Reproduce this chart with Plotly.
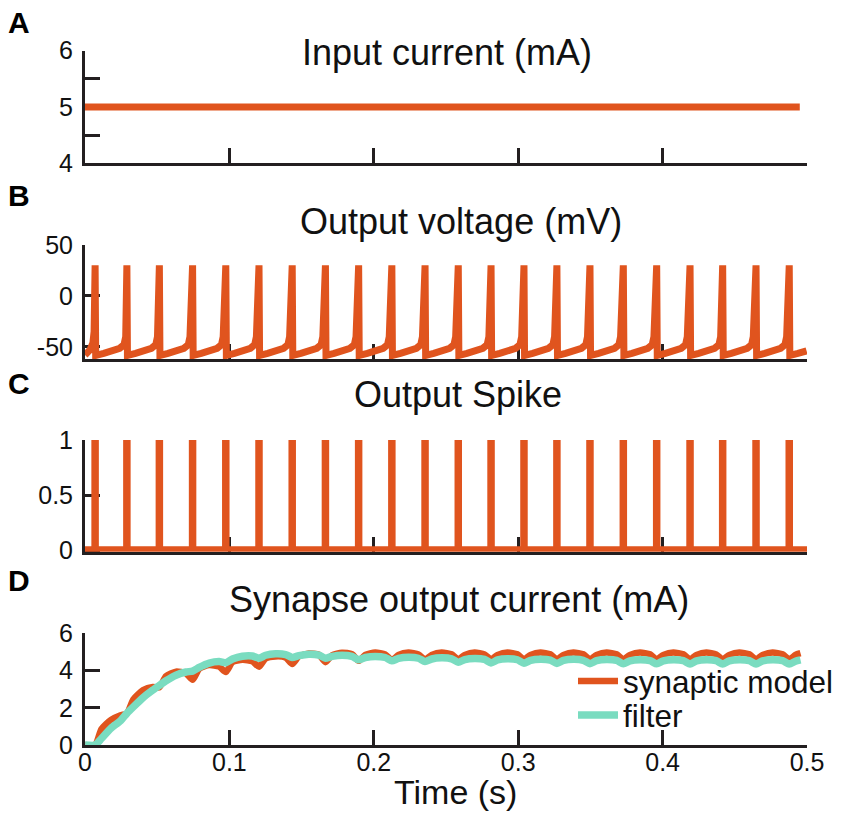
import plotly.graph_objects as go

# ---------------- data ----------------
spike_t = [0.0070, 0.0290, 0.0515, 0.0745, 0.0975, 0.1205, 0.1435, 0.1665,
           0.1895, 0.2125, 0.2355, 0.2585, 0.2812, 0.3040, 0.3268, 0.3497,
           0.3728, 0.3959, 0.4190, 0.4416, 0.4647, 0.4877]

# Panel A: input current
input_t = [0.0, 0.495]
input_i = [5.0, 5.0]

# Panel B: membrane voltage (start segment, shape after each spike, peak)
volt_start_t = [0.0, 0.0035, 0.0055, 0.0063]
volt_start_v = [-58.0, -53.0, -46.0, -35.0]
volt_after_dt = [0.0004, 0.0060, 0.0120, 0.0170, 0.0200, 0.0212]
volt_after_v = [-58.5, -56.5, -54.0, -51.5, -48.0, -40.0]
spike_peak_v = 30.0

# Panel D: synaptic model (value at each spike + 3 arc values per interval)
syn_cusp = [0.0, 1.70, 3.10, 3.50, 3.92, 4.20, 4.35, 4.45, 4.52, 4.56, 4.58,
            4.60, 4.60, 4.60, 4.60, 4.60, 4.60, 4.60, 4.60, 4.60, 4.60, 4.60]
syn_arc = [[0.85, 1.35, 1.60], [2.45, 2.95, 3.12], [3.70, 3.94, 3.85],
           [4.10, 4.30, 4.21], [4.45, 4.58, 4.50], [4.65, 4.76, 4.70],
           [4.76, 4.92, 4.85], [4.82, 4.96, 4.88], [4.84, 4.97, 4.87],
           [4.84, 4.97, 4.87], [4.84, 4.97, 4.87], [4.84, 4.97, 4.87],
           [4.84, 4.97, 4.87], [4.84, 4.97, 4.87], [4.84, 4.97, 4.87],
           [4.84, 4.97, 4.87], [4.84, 4.97, 4.87], [4.84, 4.97, 4.87],
           [4.84, 4.97, 4.87], [4.84, 4.97, 4.87], [4.84, 4.97, 4.87]]
syn_tail_t = [0.4920, 0.4955]
syn_tail_v = [4.84, 4.93]

# Panel D: filter
filt_cusp = [0.0, 1.70, 3.20, 3.97, 4.42, 4.66, 4.70, 4.66, 4.58, 4.52, 4.48,
             4.44, 4.41, 4.39, 4.38, 4.37, 4.36, 4.36, 4.35, 4.35, 4.35, 4.35]
filt_arc = [[0.35, 0.90, 1.30], [2.05, 2.55, 2.95], [3.45, 3.75, 3.92],
            [4.17, 4.40, 4.48], [4.62, 4.77, 4.78], [4.82, 4.90, 4.86],
            [4.80, 4.88, 4.83], [4.76, 4.82, 4.76], [4.70, 4.76, 4.70],
            [4.65, 4.71, 4.66], [4.62, 4.68, 4.63], [4.59, 4.65, 4.60],
            [4.57, 4.63, 4.58], [4.55, 4.61, 4.56], [4.54, 4.60, 4.55],
            [4.53, 4.59, 4.54], [4.52, 4.58, 4.53], [4.52, 4.58, 4.53],
            [4.52, 4.58, 4.53], [4.52, 4.58, 4.53], [4.52, 4.58, 4.53]]
filt_tail_t = [0.4920, 0.4955]
filt_tail_v = [4.50, 4.57]

x_tickvals = [0, 0.1, 0.2, 0.3, 0.4, 0.5]
x_ticktext = ["0", "0.1", "0.2", "0.3", "0.4", "0.5"]

# ---------------- build traces ----------------
ORANGE = "#E0541E"
TEAL = "#7ADCC0"
AXC = "#231f20"
FONT = "Liberation Sans, Arial, sans-serif"
W, H = 851, 817


def px(x):
    return x / W


def py(y):
    return 1 - y / H


# voltage
vt, vv = list(volt_start_t), list(volt_start_v)
for i, ts in enumerate(spike_t):
    vt.append(ts)
    vv.append(spike_peak_v)
    nxt = spike_t[i + 1] if i + 1 < len(spike_t) else 0.5
    for dt, v in zip(volt_after_dt, volt_after_v):
        if ts + dt < nxt:
            vt.append(ts + dt)
            vv.append(v)

# spikes
st, sv = [0.0], [0.0]
for ts in spike_t:
    st += [ts, ts, ts]
    sv += [0.0, 1.0, 0.0]
st.append(0.5)
sv.append(0.0)


def arc_series(cusps, arcs, tail_t, tail_v):
    t, v = [0.0, spike_t[0]], [0.0, cusps[0]]
    for i in range(len(spike_t) - 1):
        a, b = spike_t[i], spike_t[i + 1]
        for frac, val in zip([0.2, 0.5, 0.8], arcs[i]):
            t.append(a + frac * (b - a))
            v.append(val)
        t.append(b)
        v.append(cusps[i + 1])
    return t + tail_t, v + tail_v


syn_t, syn_v = arc_series(syn_cusp, syn_arc, syn_tail_t, syn_tail_v)
filt_t, filt_v = arc_series(filt_cusp, filt_arc, filt_tail_t, filt_tail_v)

fig = go.Figure()
fig.add_trace(go.Scatter(x=input_t, y=input_i, mode="lines",
                         line=dict(color=ORANGE, width=7), showlegend=False,
                         xaxis="x", yaxis="y"))
fig.add_trace(go.Scatter(x=vt, y=vv, mode="lines",
                         line=dict(color=ORANGE, width=7), showlegend=False,
                         xaxis="x2", yaxis="y2"))
fig.add_trace(go.Scatter(x=st, y=sv, mode="lines",
                         line=dict(color=ORANGE, width=7.5), showlegend=False,
                         xaxis="x3", yaxis="y3"))
fig.add_trace(go.Scatter(x=syn_t, y=syn_v, mode="lines", name="synaptic model",
                         line=dict(color=ORANGE, width=6.5, shape="spline",
                                   smoothing=0.6),
                         legend="legend", xaxis="x4", yaxis="y4"))
fig.add_trace(go.Scatter(x=filt_t, y=filt_v, mode="lines", name="filter",
                         line=dict(color=TEAL, width=7.5, shape="spline",
                                   smoothing=0.6),
                         legend="legend2", xaxis="x4", yaxis="y4"))

xdom = [px(85), px(807)]
ydoms = {
    "": [py(163.3), py(50.7)],
    "2": [py(359), py(245)],
    "3": [py(551.7), py(440)],
    "4": [py(745), py(633.3)],
}
yranges = {"": [4, 6], "2": [-62, 50], "3": [-0.015, 1.0], "4": [0, 6]}
ytickvals = {"": [4, 4.5, 5, 5.5, 6], "2": [-50, 0, 50], "3": [0, 0.5, 1],
             "4": [0, 2, 4, 6]}
yticktext = {"": ["4", "", "5", "", "6"], "2": ["-50", "0", "50"],
             "3": ["0", "0.5", "1"], "4": ["0", "2", "4", "6"]}

common = dict(showline=True, linecolor=AXC, linewidth=3, ticks="inside",
              ticklen=15, tickwidth=3, tickcolor=AXC, showgrid=False,
              zeroline=False, layer="below traces", automargin=False,
              tickfont=dict(family=FONT, size=25, color="#111111"))

layout = {}
for k in ["", "2", "3", "4"]:
    layout["xaxis" + k] = dict(common, domain=xdom, anchor="y" + k,
                               range=[0, 0.5], tickvals=x_tickvals,
                               ticktext=x_ticktext, ticklabelstandoff=-7,
                               showticklabels=(k == "4"))
    layout["yaxis" + k] = dict(common, domain=ydoms[k], anchor="x" + k,
                               range=yranges[k], tickvals=ytickvals[k],
                               ticktext=yticktext[k], ticklabelstandoff=4)
fig.update_layout(**layout)

annos = []
for letter, yy in [("A", 22), ("B", 195), ("C", 383), ("D", 580)]:
    annos.append(dict(text="<b>%s</b>" % letter, x=px(6), y=py(yy),
                      xref="paper", yref="paper", xanchor="left",
                      yanchor="middle", showarrow=False,
                      font=dict(family=FONT, size=30, color="#000")))
for title, xx, yy in [("Input current (mA)", 447, 52),
                      ("Output voltage (mV)", 461, 221),
                      ("Output Spike", 458, 394),
                      ("Synapse output current (mA)", 459, 599),
                      ("Time (s)", 455, 792)]:
    annos.append(dict(text=title, x=px(xx), y=py(yy), xref="paper",
                      yref="paper", xanchor="center", yanchor="middle",
                      showarrow=False,
                      font=dict(family=FONT, size=36 if title != "Time (s)" else 34,
                                color="#111")))

legfont = dict(family=FONT, size=31.5, color="#111")
fig.update_layout(
    template="none",
    width=W, height=H,
    margin=dict(l=0, r=0, t=0, b=0, autoexpand=False),
    paper_bgcolor="white", plot_bgcolor="white",
    annotations=annos,
    showlegend=True,
    legend=dict(x=px(573), y=py(681), xanchor="left", yanchor="middle",
                font=legfont, bgcolor="rgba(0,0,0,0)", borderwidth=0,
                itemwidth=40),
    legend2=dict(x=px(573), y=py(715), xanchor="left", yanchor="middle",
                 font=legfont, bgcolor="rgba(0,0,0,0)", borderwidth=0,
                 itemwidth=40),
)

fig.write_html("out.html",
               config={"displayModeBar": False},
               post_script="document.body.style.margin='0px';"
                           "document.body.style.padding='0px';")
